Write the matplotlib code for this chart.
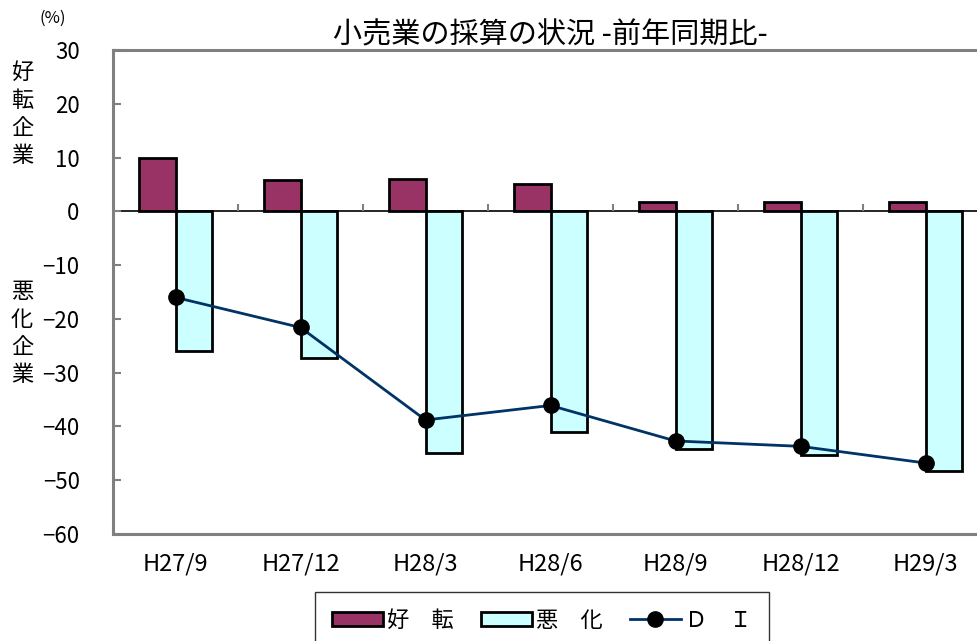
import numpy as np
import matplotlib
matplotlib.use("Agg")
import matplotlib.pyplot as plt
from matplotlib.patches import Patch
from matplotlib.lines import Line2D

plt.rcParams['font.family'] = ['Noto Sans CJK JP', 'DejaVu Sans']

# data
periods = ["H27/9", "H27/12", "H28/3", "H28/6", "H28/9", "H28/12", "H29/3"]
kouten = [10.0, 5.9, 6.1, 5.0, 1.7, 1.7, 1.7]
akka = [-26.0, -27.3, -45.0, -41.1, -44.2, -45.4, -48.3]
di = [-16.0, -21.6, -38.8, -36.1, -42.7, -43.7, -46.8]
yticks = [30, 20, 10, 0, -10, -20, -30, -40, -50, -60]

purple = "#993366"
cyan = "#ccffff"
navy = "#003366"
gray = "#808080"

fig = plt.figure(figsize=(9.78, 6.41), dpi=100)
ax = fig.add_axes([113/978, 107/641, 875/978, 484/641])

x = np.arange(len(periods))
w = 0.29
ax.bar(x - w/2, kouten, w, color=purple, edgecolor="black", linewidth=2, zorder=2)
ax.bar(x + w/2, akka, w, color=cyan, edgecolor="black", linewidth=2, zorder=2)
ax.plot(x, di, color=navy, linewidth=2, marker="o", markersize=11,
        markerfacecolor="black", markeredgecolor="black", zorder=3)

ax.axhline(0, color="black", linewidth=1.2, zorder=1)
# category separators on the zero line
ax.vlines(x[:-1] + 0.5, 0, 1.3, color=gray, linewidth=1.5, zorder=1)

ax.set_xlim(-0.5, len(periods) - 0.5)
ax.set_ylim(-60, 30)
ax.set_yticks(yticks)
ax.set_xticks(x)
ax.set_xticklabels(periods, fontsize=17)
ax.tick_params(axis="x", length=0, pad=13)
ax.tick_params(axis="y", direction="in", length=6, width=1.5, color=gray,
               labelsize=16, pad=24)

for s in ["left", "top", "bottom"]:
    ax.spines[s].set_color(gray)
    ax.spines[s].set_linewidth(2.2)
ax.spines["right"].set_visible(False)

ax.set_title("小売業の採算の状況 -前年同期比-", fontsize=21, pad=2)

fig.text(22/978, 1 - 114/641, "好\n転\n企\n業", fontsize=16, ha="center", va="center",
         linespacing=1.25)
fig.text(22/978, 1 - 333/641, "悪\n化\n企\n業", fontsize=16, ha="center", va="center",
         linespacing=1.25)
fig.text(53/978, 1 - 18/641, "(%)", fontsize=12, ha="center", va="center")

handles = [
    Patch(facecolor=purple, edgecolor="black", linewidth=2),
    Patch(facecolor=cyan, edgecolor="black", linewidth=2),
    Line2D([], [], color=navy, linewidth=2, marker="o", markersize=11,
           markerfacecolor="black", markeredgecolor="black"),
]
leg = fig.legend(handles, ["好　転", "悪　化", "Ｄ　Ｉ"], loc="upper center",
                 bbox_to_anchor=(542/978, 1 - 592/641), ncol=3, fontsize=16,
                 frameon=True, fancybox=False, edgecolor="black",
                 handlelength=2.3, handleheight=0.6, handletextpad=0.2,
                 columnspacing=1.2, borderpad=0.75, borderaxespad=0)
leg.get_frame().set_linewidth(1)

fig.savefig("out.png", dpi=100)
